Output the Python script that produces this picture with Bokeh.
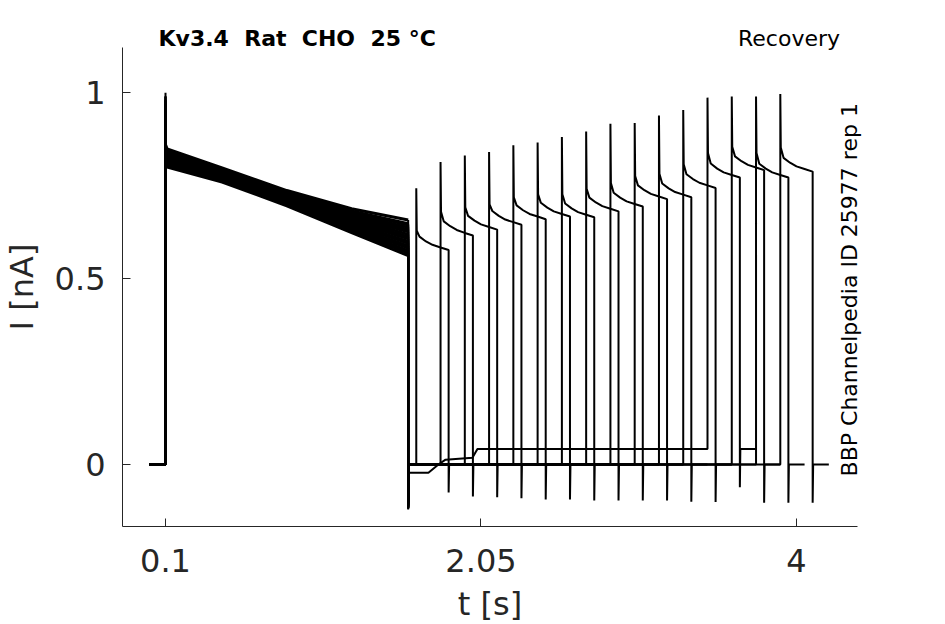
from math import pi
from bokeh.plotting import figure
from bokeh.models import FixedTicker, Label, Range1d
from bokeh.embed import file_html
from bokeh.resources import INLINE

# ---------------- data ----------------
# protocol (s)
trace_start = 0.0
cond_on = 0.1
cond_off = 1.6
test_dur = 0.2
post_dur = 0.1

# test-pulse onsets, one per sweep
test_on = [1.65, 1.80, 1.95, 2.10, 2.25, 2.40, 2.55, 2.70,
           2.85, 3.00, 3.15, 3.30, 3.45, 3.60, 3.75, 3.90]

# conditioning pulse (nA)
cond_peak = [0.93, 0.95, 0.94, 0.96, 0.95, 0.97, 0.96, 0.97,
             0.98, 0.97, 0.98, 0.99, 0.98, 0.99, 1.00, 0.99]
cond_times = [0.11, 0.45, 0.85, 1.25, 1.60]
cond_v011 = [0.800, 0.804, 0.806, 0.811, 0.812, 0.817, 0.819, 0.824,
             0.825, 0.830, 0.832, 0.837, 0.838, 0.842, 0.844, 0.849]
cond_v045 = [0.760, 0.763, 0.766, 0.768, 0.771, 0.773, 0.776, 0.777,
             0.781, 0.782, 0.786, 0.787, 0.790, 0.792, 0.794, 0.798]
cond_v085 = [0.696, 0.700, 0.701, 0.705, 0.707, 0.711, 0.712, 0.716,
             0.718, 0.722, 0.723, 0.727, 0.729, 0.732, 0.733, 0.737]
cond_v125 = [0.624, 0.629, 0.633, 0.638, 0.641, 0.646, 0.650, 0.655,
             0.658, 0.663, 0.667, 0.672, 0.675, 0.680, 0.682, 0.688]
cond_v160 = [0.562, 0.569, 0.575, 0.582, 0.588, 0.595, 0.600, 0.607,
             0.613, 0.619, 0.626, 0.632, 0.638, 0.644, 0.648, 0.658]
cond_post = [0.810, 0.814, 0.816, 0.821, 0.822, 0.827, 0.829, 0.834,
             0.835, 0.840, 0.842, 0.847, 0.848, 0.852, 0.854, 0.859]
cond_tail = [-0.100, -0.105, -0.110, -0.108, -0.112, -0.115, -0.110, -0.113,
             -0.116, -0.118, -0.114, -0.117, -0.119, -0.116, -0.121, -0.118]

# test pulse (nA), sampled at these times after onset (s)
test_times = [0.003, 0.02, 0.06, 0.10, 0.15, 0.20]
test_peak = [0.743, 0.814, 0.831, 0.841, 0.859, 0.866, 0.881, 0.896,
             0.917, 0.919, 0.939, 0.954, 0.987, 0.990, 0.990, 0.997]
test_knee = [0.629, 0.680, 0.692, 0.700, 0.719, 0.727, 0.727, 0.742,
             0.757, 0.776, 0.782, 0.808, 0.838, 0.855, 0.838, 0.853]
test_v02 = [0.613, 0.654, 0.669, 0.682, 0.697, 0.704, 0.702, 0.718,
            0.731, 0.751, 0.756, 0.781, 0.810, 0.829, 0.809, 0.825]
test_v06 = [0.600, 0.641, 0.656, 0.669, 0.684, 0.691, 0.689, 0.705,
            0.718, 0.738, 0.743, 0.768, 0.796, 0.816, 0.796, 0.812]
test_v10 = [0.591, 0.631, 0.646, 0.659, 0.674, 0.681, 0.679, 0.695,
            0.708, 0.728, 0.733, 0.758, 0.786, 0.806, 0.786, 0.802]
test_v15 = [0.584, 0.623, 0.639, 0.652, 0.667, 0.674, 0.672, 0.688,
            0.701, 0.721, 0.726, 0.751, 0.779, 0.799, 0.779, 0.795]
test_end = [0.577, 0.616, 0.632, 0.645, 0.660, 0.667, 0.665, 0.681,
            0.694, 0.714, 0.719, 0.744, 0.772, 0.792, 0.772, 0.788]
test_tail = [-0.075, -0.086, -0.088, -0.091, -0.094, -0.094, -0.097, -0.097,
             -0.097, -0.097, -0.100, -0.101, -0.061, -0.103, -0.103, -0.103]

# holding baseline after the conditioning pulse (leak drift of sweep 13)
leak_sweep = 12
leak_t = [1.603, 1.725, 1.787, 1.831, 1.997, 2.028]
leak_v = [-0.022, -0.022, 0.000, 0.013, 0.018, 0.042]

# axis extents and ticks
x_lo, x_hi = -0.1658, 4.3753
y_lo, y_hi = -0.1668, 1.1227
x_ticks = [0.1, 2.05, 4]
y_ticks = [0, 0.5, 1]

# ---------------- build traces ----------------
xs, ys = [], []      # everything except the conditioning plateau
bxs, bys = [], []    # conditioning plateau (noisy band -> thicker)
n = len(test_on)
for i in range(n):
    cond_vals = [cond_v011[i], cond_v045[i], cond_v085[i], cond_v125[i], cond_v160[i]]
    tv = [test_knee[i], test_v02[i], test_v06[i], test_v10[i], test_v15[i], test_end[i]]
    base = leak_v[-1] if i == leak_sweep else 0.0
    bxs.append([cond_on + 0.0015] + cond_times)
    bys.append([cond_post[i]] + cond_vals)
    x = [trace_start, cond_on, cond_on, cond_on + 0.0015]
    y = [0.0, 0.0, cond_peak[i], cond_post[i]]
    xs.append(x)
    ys.append(y)
    x = [cond_off, cond_off]
    y = [cond_v160[i], cond_tail[i]]
    if i == leak_sweep:
        x += leak_t
        y += leak_v
    else:
        x += [cond_off + 0.003]
        y += [0.0]
    t0 = test_on[i]
    x += [t0, t0]
    y += [base, test_peak[i]]
    x += [t0 + dt for dt in test_times]
    y += tv
    x += [t0 + test_dur, t0 + test_dur + 0.003, t0 + test_dur + post_dur]
    y += [test_tail[i], base, base]
    xs.append(x)
    ys.append(y)

# ---------------- figure ----------------
W, H = 940, 624
px_per_s = 161.79
px_per_nA = 371.7
x0_px, y0_px = 165.0, 464.0   # pixel of t=0.1 s and of I=0 nA
xr = Range1d(0.1 - x0_px / px_per_s, 0.1 + (W - x0_px) / px_per_s)
yr = Range1d(-(H - y0_px) / px_per_nA, y0_px / px_per_nA)

p = figure(width=W, height=H, output_backend="svg", toolbar_location=None,
           x_range=xr, y_range=yr, min_border=0,
           min_border_left=0, min_border_right=0, min_border_top=0,
           min_border_bottom=0)
p.title.visible = False
p.multi_line(xs=xs, ys=ys, line_color="black", line_width=2.0)
p.multi_line(xs=bxs, ys=bys, line_color="black", line_width=3.0)

p.grid.visible = False
p.outline_line_color = None
p.background_fill_color = "white"
p.border_fill_color = "white"

axcol = "#262626"
for ax in (p.xaxis[0], p.yaxis[0]):
    ax.axis_line_color = axcol
    ax.axis_line_width = 1
    ax.major_tick_line_color = axcol
    ax.major_tick_in = 8
    ax.major_tick_out = 0
    ax.minor_tick_line_color = None
    ax.major_label_text_font = "DejaVu Sans"
    ax.major_label_text_font_size = "32px"
    ax.major_label_text_color = axcol
    ax.axis_label_text_font = "DejaVu Sans"
    ax.axis_label_text_font_size = "32px"
    ax.axis_label_text_font_style = "normal"
    ax.axis_label_text_color = axcol

p.xaxis.fixed_location = y_lo
p.yaxis.fixed_location = x_lo
p.xaxis.bounds = (x_lo, x_hi)
p.yaxis.bounds = (y_lo, y_hi)
p.xaxis.ticker = FixedTicker(ticks=x_ticks)
p.xaxis.major_label_overrides = {0.1: "0.1", 2.05: "2.05", 4: "4"}
p.yaxis.ticker = FixedTicker(ticks=y_ticks)
p.yaxis.major_label_overrides = {0: "0", 0.5: "0.5", 1: "1"}
p.xaxis.axis_label = "t [s]"
p.yaxis.axis_label = "I [nA]"
p.xaxis.major_label_standoff = 23
p.xaxis.axis_label_standoff = 9
p.yaxis.major_label_standoff = 17
p.yaxis.axis_label_standoff = 11

p.add_layout(Label(x=0.0568, y=1.1469, text="Kv3.4 \u00a0Rat \u00a0CHO \u00a025 °C",
                   text_font="DejaVu Sans", text_font_style="bold",
                   text_font_size="22px", text_color="black",
                   text_align="left", text_baseline="alphabetic"))
p.add_layout(Label(x=4.269, y=1.1469, text="Recovery",
                   text_font="DejaVu Sans", text_font_size="22px",
                   text_color="black", text_align="right",
                   text_baseline="alphabetic"))
p.add_layout(Label(x=4.3276, y=-0.032, text="BBP Channelpedia ID 25977 rep 1",
                   angle=pi / 2, text_font="DejaVu Sans", text_font_size="22px",
                   text_color="black", text_align="left",
                   text_baseline="alphabetic"))

open("out.html", "w").write(file_html(p, INLINE))
